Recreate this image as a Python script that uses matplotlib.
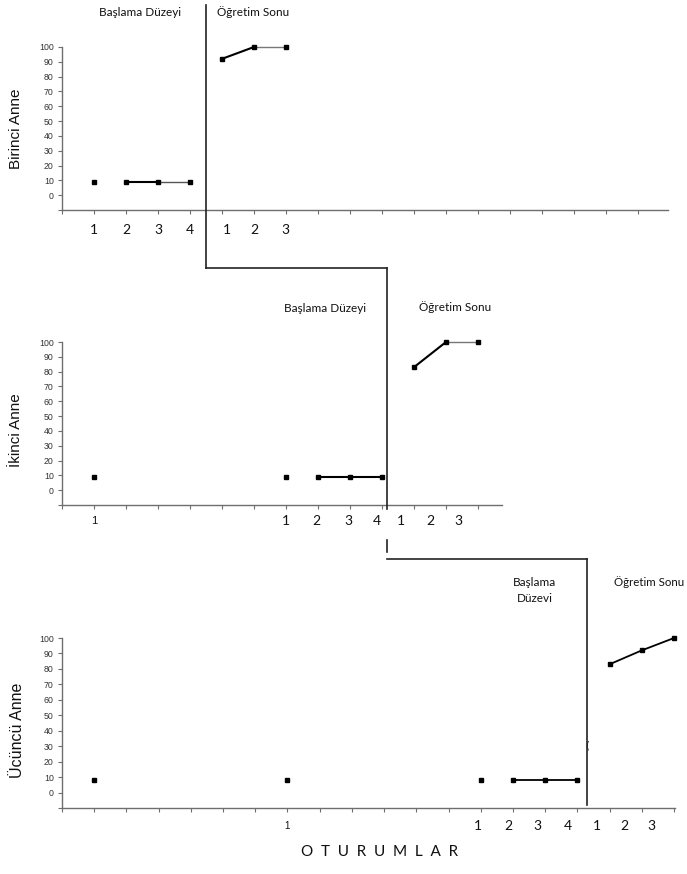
import matplotlib
matplotlib.use("Agg")
import matplotlib.pyplot as plt
from matplotlib.lines import Line2D

W, H = 687, 874

# ---------------- data ----------------
p1_base_x = [1, 2, 3, 4]
p1_base_y = [9, 9, 9, 9]
p1_int_x = [5, 6, 7]
p1_int_y = [92, 100, 100]

p2_base_x = [1, 7, 8, 9, 10]
p2_base_y = [9, 9, 9, 9, 9]
p2_int_x = [11, 12, 13]
p2_int_y = [83, 100, 100]

p3_base_x = [1, 7, 13, 14, 15, 16]
p3_base_y = [8, 8, 8, 8, 8, 8]
p3_int_x = [17, 18, 19]
p3_int_y = [83, 92, 100]

y_ticks = [0, 10, 20, 30, 40, 50, 60, 70, 80, 90, 100]
y_labels = ["Birinci Anne", "İkinci Anne", "Ücüncü Anne"]
phase_labels = ["Başlama Düzeyi", "Öğretim Sonu"]
x_title = "O  T  U  R  U  M  L  A  R"

# session number labels (text, data x position)
p1_num_labels = ["1", "2", "3", "4", "1", "2", "3"]
p1_num_pos = [1, 2, 3, 4, 5.15, 6, 6.98]
p2_num_labels = ["1", "1", "2", "3", "4", "1", "2", "3"]
p2_num_pos = [1, 7, 7.95, 8.95, 9.85, 10.6, 11.5, 12.4]
p3_num_labels = ["1", "2", "3", "4", "1", "2", "3"]
p3_num_pos = [12.9, 13.85, 14.75, 15.7, 16.6, 17.45, 18.3]

# segments: (start index, end index, colour, width) within each series
p1_base_segs = [(1, 2, "black", 1.5), (2, 3, "#555555", 1.0)]
p1_int_segs = [(0, 1, "black", 1.5), (1, 2, "#777777", 1.0)]
p2_base_segs = [(2, 3, "black", 1.5), (3, 4, "black", 1.5)]
p2_int_segs = [(0, 1, "black", 1.5), (1, 2, "#777777", 1.0)]
p3_base_segs = [(3, 4, "black", 1.3), (4, 5, "black", 1.3)]
p3_int_segs = [(0, 1, "black", 1.3), (1, 2, "black", 1.3)]

fig = plt.figure(figsize=(W / 100, H / 100), dpi=100)
fig.patch.set_facecolor("white")

AX_COL = "#6e6e6e"


def fx(px):
    return px / W


def fy(py):
    return 1 - py / H


def make_axes(top_px, bottom_px, right_px, xmax):
    ax = fig.add_axes([fx(62), fy(bottom_px), fx(right_px) - fx(62),
                       fy(top_px) - fy(bottom_px)])
    ax.set_xlim(0, xmax)
    ax.set_ylim(-10, 100)
    for s in ["top", "right"]:
        ax.spines[s].set_visible(False)
    for s in ["left", "bottom"]:
        ax.spines[s].set_color(AX_COL)
        ax.spines[s].set_linewidth(1.0)
    ax.set_yticks([-10] + y_ticks)
    ax.set_yticklabels([""] + [str(v) for v in y_ticks],
                       fontsize=6.3, family="Liberation Sans", color="#333333")
    ax.set_xticks(range(0, int(xmax) + 1))
    ax.set_xticklabels([])
    ax.tick_params(axis="both", color=AX_COL, length=3, width=0.8, pad=3)
    ax.patch.set_alpha(0)
    return ax


def draw_series(ax, xs, ys, segs):
    for i, j, c, lw in segs:
        ax.plot([xs[i], xs[j]], [ys[i], ys[j]], color=c, lw=lw,
                solid_capstyle="butt", zorder=2, clip_on=False)
    ax.plot(xs, ys, ls="none", marker="s", ms=3.5, color="black",
            zorder=3, clip_on=False)


def num_labels(ax, labels, pos, ypx_off, size=10, family="Lato"):
    for t, p in zip(labels, pos):
        ax.annotate(t, xy=(p, -10), xycoords="data",
                    xytext=(0, -ypx_off), textcoords="offset pixels",
                    ha="center", va="center", fontsize=size,
                    family=family, color="#111111", annotation_clip=False)


# Panel 1
ax1 = make_axes(47, 210, 668, 18.94)
draw_series(ax1, p1_base_x, p1_base_y, p1_base_segs)
draw_series(ax1, p1_int_x, p1_int_y, p1_int_segs)
num_labels(ax1, p1_num_labels, p1_num_pos, 20)

# Panel 2
ax2 = make_axes(342, 505, 502, 13.75)
draw_series(ax2, p2_base_x, p2_base_y, p2_base_segs)
draw_series(ax2, p2_int_x, p2_int_y, p2_int_segs)
num_labels(ax2, p2_num_labels[:1], p2_num_pos[:1], 16, size=8,
           family="Liberation Sans")
num_labels(ax2, p2_num_labels[1:], p2_num_pos[1:], 16)

# Panel 3
ax3 = make_axes(638, 808, 675, 19.03)
draw_series(ax3, p3_base_x, p3_base_y, p3_base_segs)
draw_series(ax3, p3_int_x, p3_int_y, p3_int_segs)
num_labels(ax3, ["1"], [7], 18, size=7, family="Liberation Sans")
num_labels(ax3, p3_num_labels, p3_num_pos, 18)

# y-axis titles
for txt, ypx, xpx, fs in zip(y_labels, [129, 430, 730], [16, 16, 18],
                             [11, 11, 11.5]):
    fig.text(fx(xpx), fy(ypx), txt, rotation=90, ha="center", va="center",
             fontsize=fs, family="Liberation Sans", color="#111111")

# phase labels
lab_kw = dict(fontsize=8.5, family="Lato", color="#111111", va="center")
fig.text(fx(140), fy(12), phase_labels[0], ha="center", **lab_kw)
fig.text(fx(217), fy(12), phase_labels[1], ha="left", **lab_kw)
fig.text(fx(325), fy(308), phase_labels[0], ha="center", **lab_kw)
fig.text(fx(455), fy(307), phase_labels[1], ha="center", **lab_kw)
fig.text(fx(535), fy(582), "Başlama", ha="center", **lab_kw)
fig.text(fx(535), fy(599), "Düzevi", ha="center", **lab_kw)
fig.text(fx(684), fy(582), phase_labels[1], ha="right", fontsize=8.3,
         family="Lato", color="#111111", va="center")

# x title
fig.text(fx(380), fy(852), x_title, ha="center", va="center",
         fontsize=11, family="Lato", color="#111111")

# phase-change lines (pixel layout)
phase_segments = [
    ((206, 5), (206, 268)),
    ((206, 268), (387, 268)),
    ((387, 268), (387, 509)),
    ((387, 540), (387, 552)),
    ((387, 559), (587, 559)),
    ((587, 559), (587, 805)),
]
for (x0, y0), (x1, y1) in phase_segments:
    fig.add_artist(Line2D([fx(x0), fx(x1)], [fy(y0), fy(y1)],
                          transform=fig.transFigure, color="#222222", lw=1.2))

# small kink on the third phase line
fig.text(fx(587), fy(746), "(", ha="center", va="center", fontsize=7,
         family="DejaVu Sans", color="#222222")

fig.savefig("out.png", dpi=100, facecolor="white")
